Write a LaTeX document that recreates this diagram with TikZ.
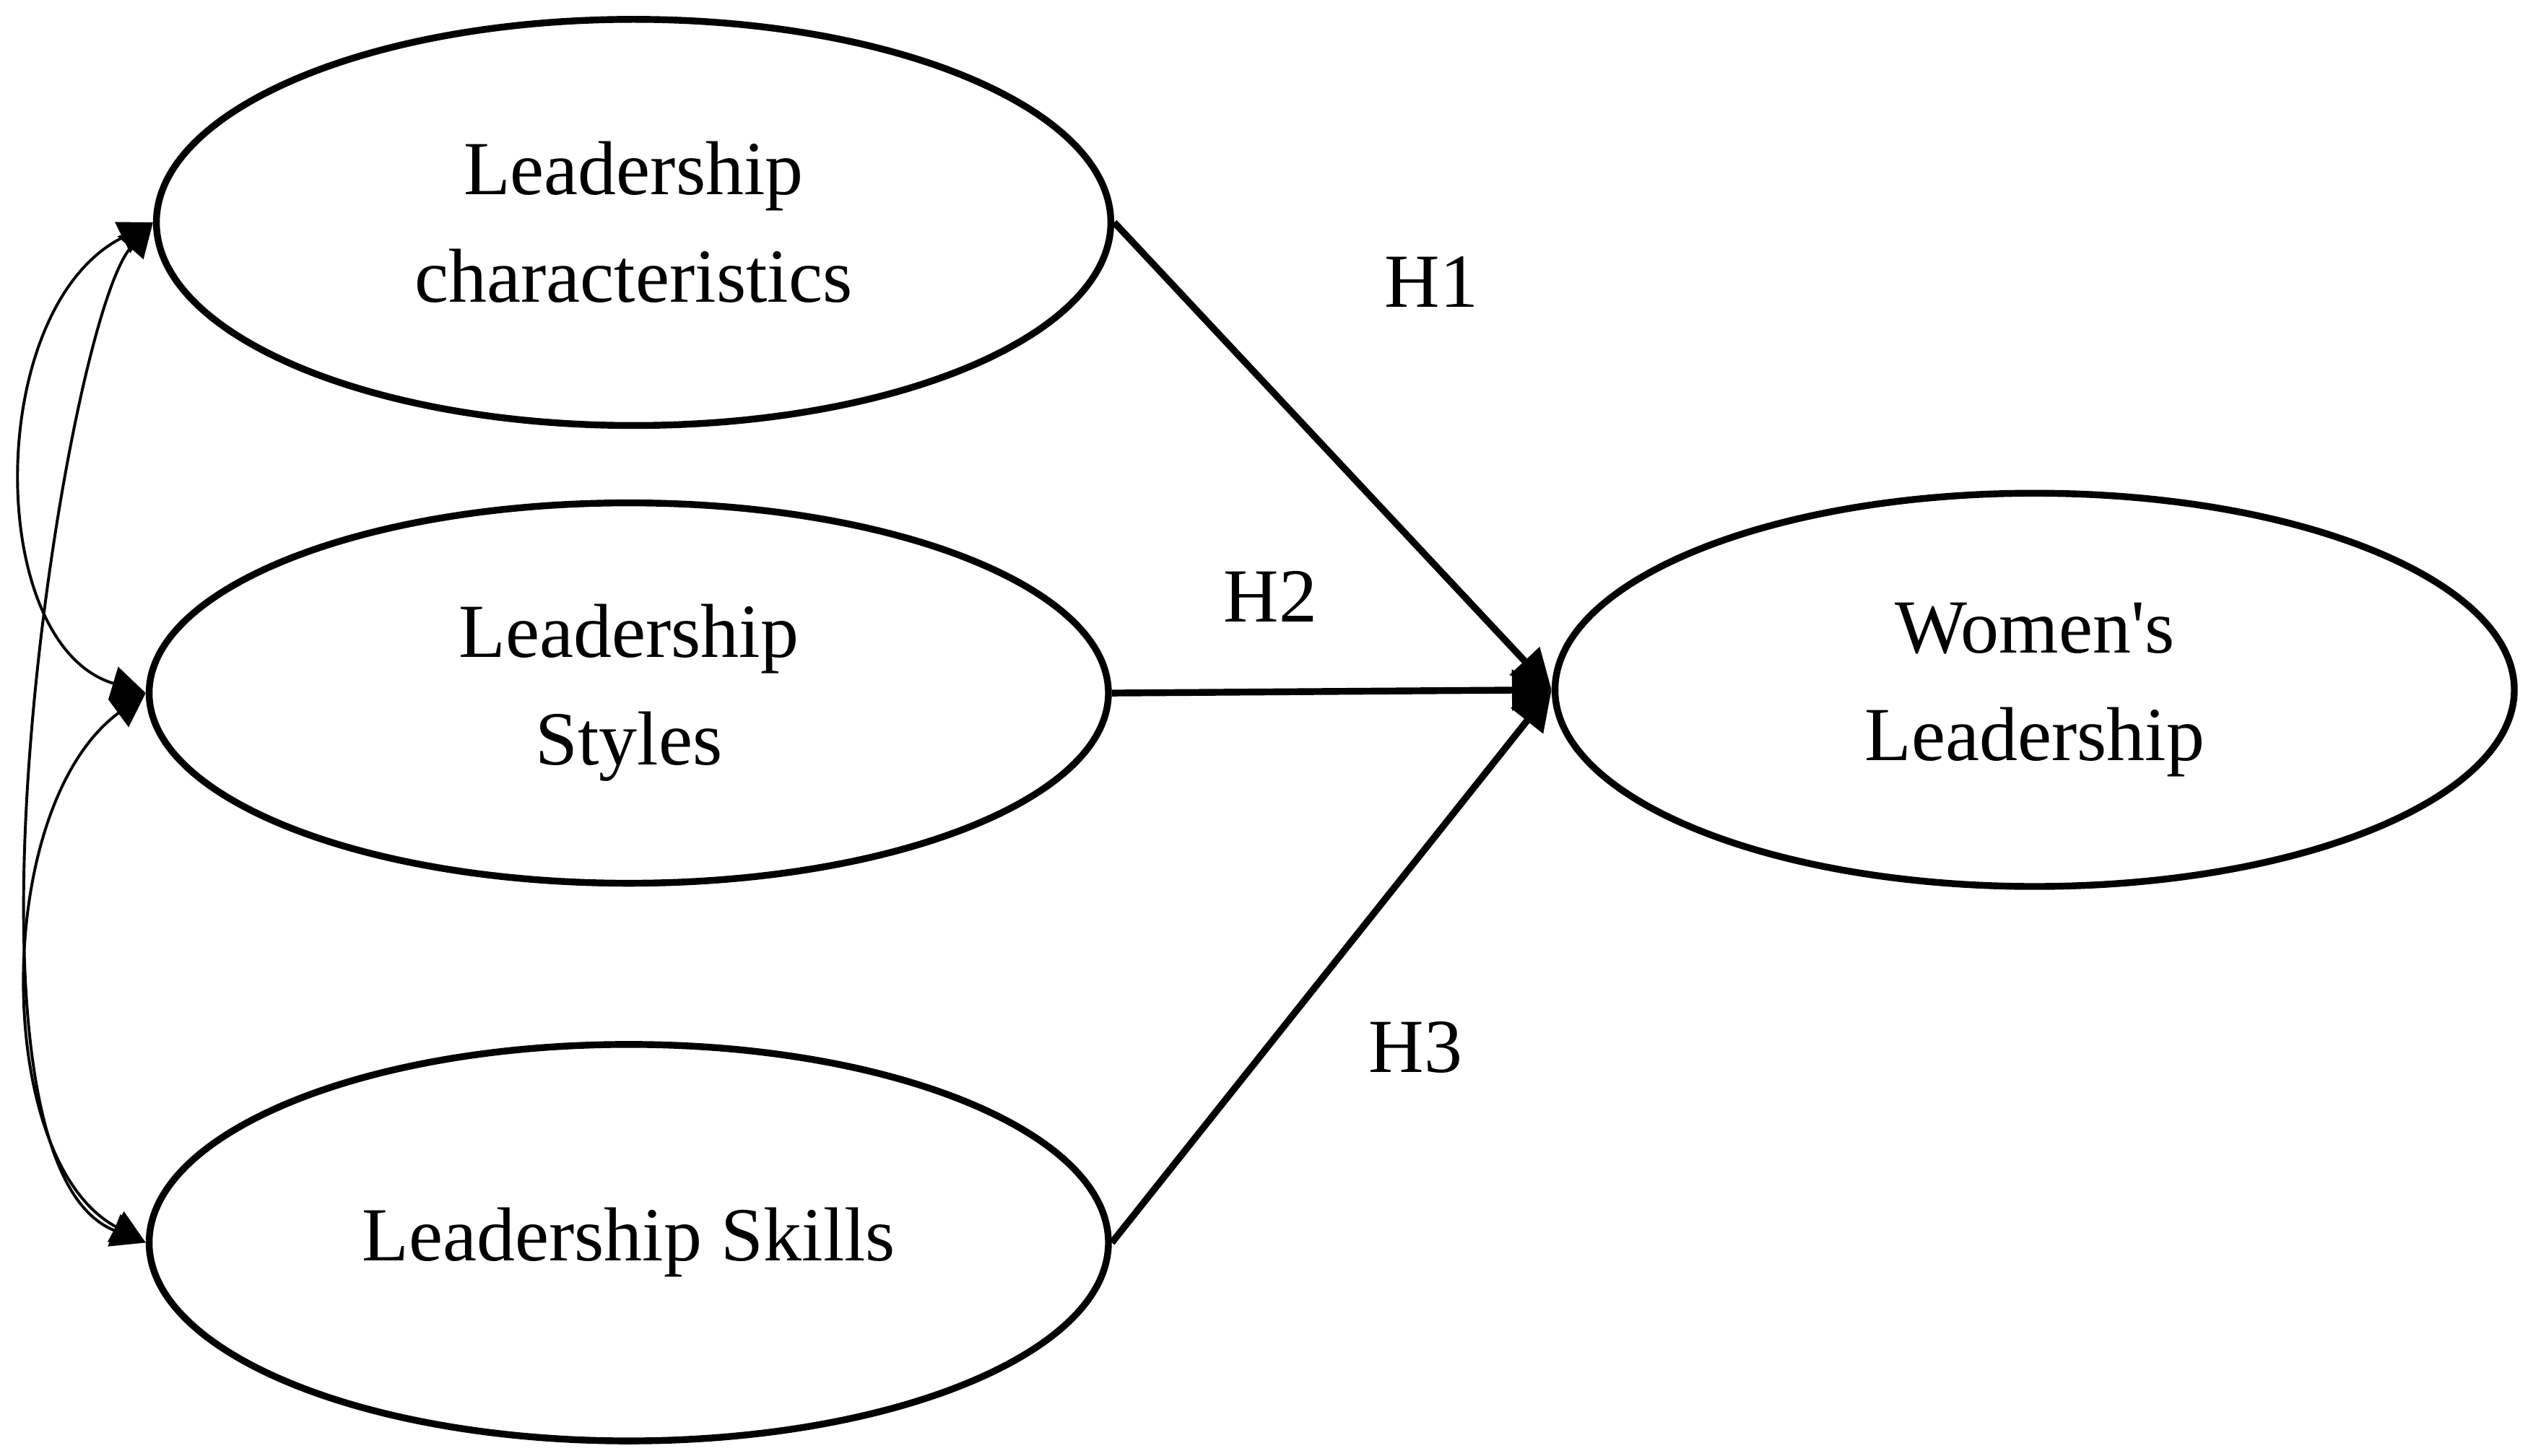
\documentclass[tikz,border=0pt]{standalone}
\usepackage{fontspec}
\setmainfont{Liberation Serif}
\usetikzlibrary{shapes.geometric,arrows.meta}
\begin{document}
\begin{tikzpicture}[x=0.1mm,y=-0.1mm,
  ell/.style={ellipse,draw,line width=1.2pt,inner sep=0pt,align=center,font=\fontsize{13.5}{19}\selectfont},
  main/.style={line width=1.2pt,-{Triangle[length=7pt,width=7pt]}},
  cov/.style={line width=0.5pt,{Triangle[length=6pt,width=6pt]}-{Triangle[length=6pt,width=6pt]}},
  lab/.style={font=\fontsize{13.5}{16}\selectfont}]
\useasboundingbox (0,0) rectangle (1568,903);
\node[ell,minimum width=59.2mm,minimum height=25.2mm] (e1) at (393,138) {Leadership\\characteristics};
\node[ell,minimum width=59.5mm,minimum height=23.6mm] (e2) at (390,430) {Leadership\\Styles};
\node[ell,minimum width=59.5mm,minimum height=24.6mm] (e3) at (390,771) {Leadership Skills};
\node[ell,minimum width=59.5mm,minimum height=24.4mm] (e4) at (1262,428) {Women\textquotesingle s\\Leadership};
\draw[main] (e1.east) -- (e4.west);
\draw[main] (e2.east) -- (e4.west);
\draw[main] (e3.east) -- (e4.west);
\node[lab] (h1) at (888,175) {H1};
\node[lab] (h2) at (788,370) {H2};
\node[lab] (h3) at (878,650) {H3};
\draw[cov] (e1.west) .. controls (-10,190) and (-10,400) .. (e2.west);
\draw[cov] (e2.west) .. controls (-5,500) and (-5,720) .. (e3.west);
\draw[cov] (e1.west) .. controls (40,200) and (-40,720) .. (e3.west);
\end{tikzpicture}
\end{document}
